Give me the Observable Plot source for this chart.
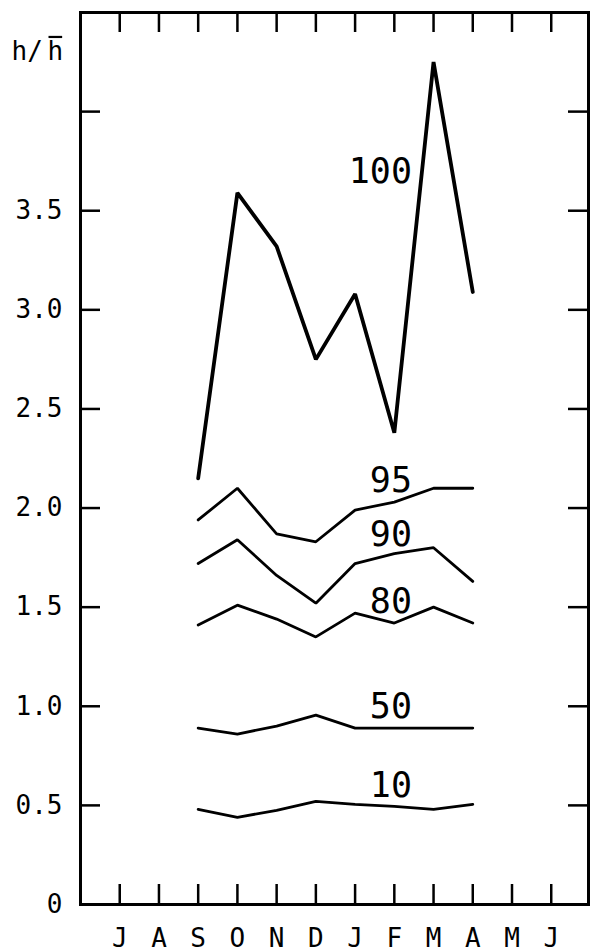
<!DOCTYPE html>
<html><head><meta charset="utf-8">
<script src="https://cdn.jsdelivr.net/npm/d3@7"></script>
<script src="https://cdn.jsdelivr.net/npm/@observablehq/plot@0.6"></script>
<style>body{margin:0;background:#fff}</style>
</head><body><div id="chart"></div>
<script>
const monthLabels = ["J","A","S","O","N","D","J","F","M","A","M","J"];
const monthIndex = [1,2,3,4,5,6,7,8,9,10,11,12];
const seriesMonths = [3,4,5,6,7,8,9,10];
const p100 = [2.15,3.59,3.32,2.75,3.08,2.38,4.25,3.09];
const p95  = [1.94,2.10,1.87,1.83,1.99,2.03,2.10,2.10];
const p90  = [1.72,1.84,1.66,1.52,1.72,1.77,1.80,1.63];
const p80  = [1.41,1.51,1.44,1.35,1.47,1.42,1.50,1.42];
const p50  = [0.89,0.86,0.90,0.955,0.89,0.89,0.89,0.89];
const p10  = [0.48,0.44,0.475,0.52,0.505,0.495,0.48,0.505];
const seriesNames = ["100","95","90","80","50","10"];
const seriesValues = [p100,p95,p90,p80,p50,p10];
const labelX = [8.45,8.45,8.45,8.45,8.45,8.45];
const labelY = [3.64,2.08,1.81,1.47,0.94,0.54];
const yTickValues = [0.5,1,1.5,2,2.5,3,3.5,4];
const yLabelValues = [0,0.5,1,1.5,2,2.5,3,3.5];

const rows = seriesNames.flatMap((name,k) => seriesMonths.map((m,i) => ({name, m, v: seriesValues[k][i]})));
const labels = seriesNames.map((name,k) => ({name, x: labelX[k], y: labelY[k]}));

const W = 591, H = 952, mL = 80, mR = 3, mT = 12, mB = 48;
const pw = W - mL - mR, ph = H - mT - mB, tick = 20;
const font = "DejaVu Sans Mono";

const chart = Plot.plot({
  width: W, height: H,
  marginLeft: mL, marginRight: mR, marginTop: mT, marginBottom: mB,
  style: {fontFamily: font, background: "#fff", color: "#000"},
  x: {domain: [0, 12.95], axis: null},
  y: {domain: [0, 4.5], axis: null},
  marks: [
    Plot.axisY(yLabelValues, {anchor: "left", tickSize: 0, tickPadding: 18, fontSize: 26, fontFamily: font,
      tickFormat: d => d === 0 ? "0" : d.toFixed(1), label: null}),
    Plot.axisX(monthIndex, {anchor: "bottom", tickSize: 0, tickPadding: 24, fontSize: 26, fontFamily: font,
      tickFormat: d => monthLabels[d-1], label: null}),
    Plot.tickY(yTickValues, {y: d => d, insetRight: pw - tick, stroke: "#000", strokeWidth: 2.5}),
    Plot.tickY(yTickValues, {y: d => d, insetLeft: pw - tick, stroke: "#000", strokeWidth: 2.5}),
    Plot.tickX(monthIndex, {x: d => d, insetTop: ph - tick, stroke: "#000", strokeWidth: 2.5}),
    Plot.tickX(monthIndex, {x: d => d, insetBottom: ph - tick, stroke: "#000", strokeWidth: 2.5}),
    Plot.line(rows, {x: "m", y: "v", z: "name", stroke: "#000",
      strokeWidth: d => d.name === "100" ? 3.8 : 2.8, strokeLinejoin: "miter"}),
    Plot.text(labels, {x: "x", y: "y", text: "name", textAnchor: "end", lineAnchor: "bottom",
      fontSize: 35, fontFamily: font, fill: "#000"}),
    Plot.text(["h/"], {frameAnchor: "top-left", text: d => d, textAnchor: "start", lineAnchor: "top",
      dx: -69, dy: 29, fontSize: 26, fontFamily: font, fill: "#000"}),
    Plot.text(["h"], {frameAnchor: "top-left", text: d => d, textAnchor: "start", lineAnchor: "top",
      dx: -33, dy: 29, fontSize: 26, fontFamily: font, fill: "#000"}),
    Plot.frame({stroke: "#000", strokeWidth: 3})
  ]
});
document.getElementById("chart").appendChild(chart);
// overline over the second h (h-bar)
const ht = Array.from(chart.querySelectorAll("text")).find(t => t.textContent === "h");
if (ht) {
  const b = ht.getBBox();
  const ln = document.createElementNS("http://www.w3.org/2000/svg", "line");
  ln.setAttribute("x1", b.x + 1);
  ln.setAttribute("x2", b.x + b.width - 1);
  ln.setAttribute("y1", b.y + 1);
  ln.setAttribute("y2", b.y + 1);
  ln.setAttribute("stroke", "#000");
  ln.setAttribute("stroke-width", 2.2);
  if (ht.getAttribute("transform")) ln.setAttribute("transform", ht.getAttribute("transform"));
  ht.parentNode.appendChild(ln);
}
</script>
</body></html>
